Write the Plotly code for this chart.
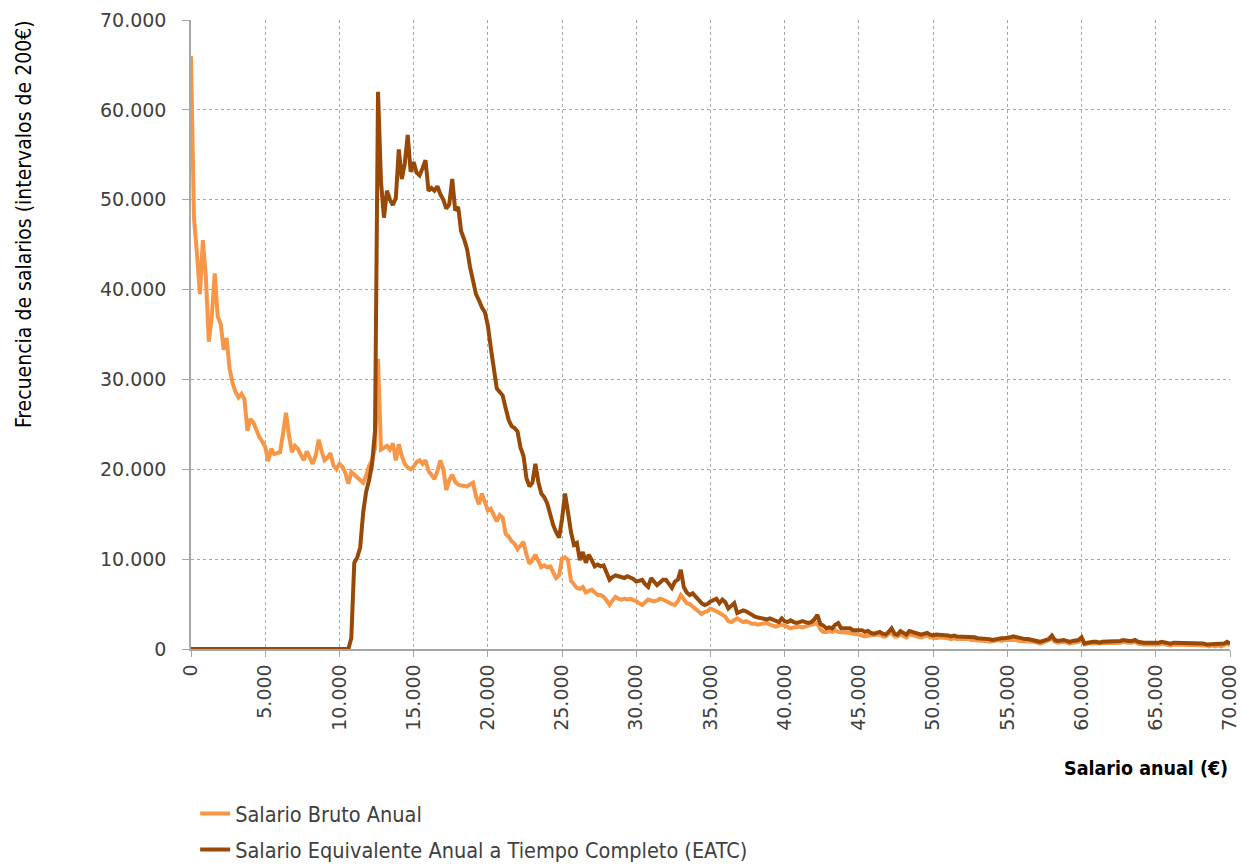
import numpy as np
import plotly.graph_objects as go

# Salary bins of 200 EUR (lower bound of each bin)
SALARIO = list(range(0, 70001, 200))

# Frequency per bin, in thousands of salaries
BRUTO_MILES = [
    66.0, 48.0, 44.0, 39.5, 45.5, 41.5, 34.2, 37.0, 41.8, 37.0,
    36.2, 33.3, 34.6, 31.2, 29.6, 28.6, 28.0, 28.4, 27.8, 24.3,
    25.6, 25.2, 24.4, 23.6, 23.1, 22.5, 20.9, 22.3, 21.7, 21.8,
    21.9, 24.0, 26.3, 23.8, 21.9, 22.6, 22.3, 21.6, 21.0, 22.0,
    21.4, 20.6, 21.5, 23.3, 22.0, 21.0, 21.3, 21.8, 20.4, 20.0,
    20.6, 20.3, 19.6, 18.4, 19.7, 19.4, 19.2, 18.9, 18.5, 19.3,
    20.4, 21.0, 22.4, 32.3, 22.2, 22.4, 22.6, 22.2, 22.9, 21.0,
    22.8, 21.5, 20.6, 20.2, 20.0, 20.3, 20.8, 21.0, 20.6, 21.0,
    19.8, 19.4, 18.9, 19.8, 21.0, 20.0, 17.7, 18.8, 19.4, 18.6,
    18.3, 18.2, 18.1, 18.1, 18.3, 18.5, 17.0, 16.1, 17.3, 16.4,
    15.4, 15.6, 14.8, 14.2, 14.9, 14.6, 12.8, 12.5, 12.0, 11.7,
    11.1, 11.6, 11.9, 10.5, 9.5, 9.9, 10.5, 9.8, 9.1, 9.3,
    9.1, 9.2, 8.6, 7.9, 8.2, 10.1, 10.2, 9.9, 7.6, 7.2,
    6.8, 6.7, 6.9, 6.3, 6.5, 6.6, 6.3, 6.0, 6.0, 5.8,
    5.4, 4.9, 5.4, 5.8, 5.6, 5.5, 5.6, 5.5, 5.6, 5.5,
    5.3, 5.1, 4.9, 5.2, 5.5, 5.4, 5.3, 5.4, 5.6, 5.5,
    5.3, 5.1, 5.0, 4.9, 5.3, 6.0, 5.6, 5.1, 5.0, 4.7,
    4.5, 4.2, 3.9, 4.1, 4.2, 4.5, 4.4, 4.2, 4.0, 3.8,
    3.6, 3.1, 3.0, 3.2, 3.4, 3.2, 3.0, 3.1, 2.9, 2.8,
    2.8, 2.7, 2.8, 2.9, 2.9, 2.7, 2.6, 2.5, 2.6, 2.7,
    2.6, 2.4, 2.3, 2.4, 2.5, 2.5, 2.4, 2.5, 2.5, 2.6,
    2.8, 2.9, 2.2, 1.9, 1.9, 2.0, 1.9, 2.1, 1.9, 1.9,
    1.9, 1.8, 1.8, 1.7, 1.7, 1.6, 1.5, 1.4, 1.5, 1.5,
    1.6, 1.6, 1.6, 1.4, 1.4, 1.7, 1.8, 1.4, 1.4, 1.6,
    1.4, 1.3, 1.6, 1.5, 1.4, 1.3, 1.3, 1.4, 1.5, 1.3,
    1.2, 1.2, 1.3, 1.3, 1.2, 1.2, 1.1, 1.2, 1.1, 1.1,
    1.2, 1.1, 1.1, 1.0, 1.0, 1.0, 0.9, 0.9, 0.9, 0.8,
    0.8, 0.9, 1.0, 0.9, 1.0, 1.0, 1.1, 1.1, 1.0, 0.9,
    0.9, 0.9, 0.8, 0.8, 0.8, 0.7, 0.6, 0.7, 0.8, 1.0,
    1.2, 0.8, 0.7, 0.8, 0.8, 0.7, 0.6, 0.7, 0.7, 0.8,
    1.0, 0.5, 0.6, 0.6, 0.6, 0.7, 0.6, 0.6, 0.6, 0.7,
    0.6, 0.7, 0.7, 0.7, 0.8, 0.7, 0.7, 0.7, 0.8, 0.6,
    0.5, 0.5, 0.5, 0.5, 0.4, 0.5, 0.5, 0.6, 0.5, 0.4,
    0.4, 0.5, 0.5, 0.5, 0.4, 0.5, 0.4, 0.4, 0.5, 0.4,
    0.4, 0.4, 0.4, 0.3, 0.4, 0.3, 0.4, 0.3, 0.4, 0.6,
    0.4,
]

EATC_MILES = [
    0.0, 0.0, 0.0, 0.0, 0.0, 0.0, 0.0, 0.0, 0.0, 0.0,
    0.0, 0.0, 0.0, 0.0, 0.0, 0.0, 0.0, 0.0, 0.0, 0.0,
    0.0, 0.0, 0.0, 0.0, 0.0, 0.0, 0.0, 0.0, 0.0, 0.0,
    0.0, 0.0, 0.0, 0.0, 0.0, 0.0, 0.0, 0.0, 0.0, 0.0,
    0.0, 0.0, 0.0, 0.0, 0.0, 0.0, 0.0, 0.0, 0.0, 0.0,
    0.0, 0.0, 0.0, 0.0, 1.2, 9.6, 10.2, 11.3, 15.2, 17.5,
    18.8, 20.6, 24.3, 62.0, 52.0, 48.0, 51.0, 50.0, 49.4, 50.2,
    55.6, 52.3, 54.0, 57.2, 53.1, 54.2, 53.0, 52.7, 53.5, 54.4,
    51.0, 51.3, 51.0, 51.5, 50.6, 50.0, 49.0, 49.5, 52.3, 48.8,
    49.2, 46.5, 45.6, 44.5, 42.5, 41.0, 39.5, 38.8, 38.0, 37.5,
    36.0, 33.5, 31.0, 29.0, 28.6, 28.2, 26.8, 25.5, 24.8, 24.6,
    24.2, 22.4, 21.5, 19.0, 18.1, 18.5, 20.6, 18.6, 17.3, 16.9,
    16.2, 14.8, 13.8, 13.0, 12.4, 14.5, 17.3, 15.2, 13.0, 11.6,
    11.8, 9.9, 10.8, 9.6, 10.5, 9.9, 9.2, 9.4, 9.2, 9.3,
    8.5, 7.7, 8.0, 8.2, 8.1, 8.0, 7.9, 8.1, 8.0, 7.8,
    7.5, 7.6, 7.7, 7.2, 6.9, 7.9, 7.5, 7.1, 7.4, 7.7,
    7.7, 7.2, 6.8, 7.5, 7.7, 8.8, 6.9, 6.3, 6.0, 6.2,
    5.8, 5.4, 5.1, 4.9, 5.0, 5.3, 5.5, 5.6, 5.1, 5.5,
    5.2, 4.5, 4.8, 5.1, 4.0, 4.2, 4.3, 4.2, 4.0, 3.7,
    3.6, 3.5, 3.4, 3.3, 3.3, 3.4, 3.3, 3.1, 3.0, 3.4,
    3.1, 3.0, 3.2, 3.0, 2.9, 3.0, 3.1, 3.0, 2.9, 3.0,
    3.3, 3.8, 2.8, 2.6, 2.3, 2.4, 2.3, 2.7, 2.9, 2.3,
    2.3, 2.2, 2.3, 2.1, 2.1, 2.2, 2.1, 1.9, 2.0, 1.8,
    1.7, 1.8, 1.9, 1.7, 1.6, 1.9, 2.3, 1.7, 1.6, 2.0,
    1.8, 1.6, 2.0, 1.9, 1.8, 1.6, 1.6, 1.7, 1.8, 1.6,
    1.5, 1.6, 1.6, 1.5, 1.5, 1.5, 1.4, 1.5, 1.4, 1.4,
    1.4, 1.4, 1.3, 1.3, 1.3, 1.2, 1.2, 1.1, 1.1, 1.1,
    1.0, 1.1, 1.2, 1.2, 1.2, 1.2, 1.3, 1.4, 1.3, 1.2,
    1.2, 1.1, 1.1, 1.0, 1.0, 0.9, 0.8, 0.9, 1.0, 1.1,
    1.5, 1.0, 0.9, 1.0, 1.0, 0.9, 0.8, 0.9, 0.9, 1.0,
    1.3, 0.6, 0.7, 0.8, 0.8, 0.8, 0.7, 0.8, 0.8, 0.9,
    0.8, 0.9, 0.9, 0.9, 1.0, 0.9, 0.9, 0.9, 1.0, 0.8,
    0.7, 0.7, 0.7, 0.7, 0.6, 0.7, 0.7, 0.8, 0.7, 0.6,
    0.6, 0.7, 0.7, 0.7, 0.6, 0.7, 0.6, 0.6, 0.7, 0.6,
    0.6, 0.6, 0.5, 0.5, 0.6, 0.5, 0.5, 0.5, 0.6, 0.8,
    0.6,
]

SERIES_NAMES = [
    "Salario Bruto Anual",
    "Salario Equivalente Anual a Tiempo Completo (EATC)",
]
SERIES_COLORS = ["#F79646", "#984807"]

X_TITLE = "Salario anual (€)"
Y_TITLE = "Frecuencia de salarios (intervalos de 200€)"

bruto = np.array(BRUTO_MILES) * 1000
eatc = np.array(EATC_MILES) * 1000

NUM_FONT = "DejaVu Sans, Verdana, sans-serif"
TXT_FONT = "DejaVu Sans Condensed, Liberation Sans Narrow, Arial Narrow, sans-serif"
TEXT_COLOR = "#404040"
GRID_COLOR = "#a6a6a6"
AXIS_COLOR = "#a6a6a6"

fig = go.Figure()
for i, (name, ys) in enumerate(zip(SERIES_NAMES, [bruto, eatc])):
    fig.add_trace(go.Scatter(
        x=SALARIO, y=ys, mode="lines", name=name,
        legendgroup=f"g{i}",
        line=dict(color=SERIES_COLORS[i], width=4),
    ))

fig.update_layout(
    width=1243, height=867,
    margin=dict(l=191, r=13, t=20, b=218, autoexpand=False),
    paper_bgcolor="white", plot_bgcolor="white",
    separators=",.",
    showlegend=True,
    legend=dict(
        x=0.004, y=-0.229, xanchor="left", yanchor="top",
        orientation="v", tracegroupgap=5,
        font=dict(family=TXT_FONT, size=21.5, color=TEXT_COLOR),
        bgcolor="rgba(0,0,0,0)",
    ),
    xaxis=dict(
        range=[0, 70000], dtick=5000, tick0=0, tickformat=",d",
        tickangle=-90,
        showgrid=True, gridcolor=GRID_COLOR, griddash="dot", gridwidth=1,
        showline=True, linecolor=AXIS_COLOR, linewidth=1.5,
        ticks="outside", ticklen=6, tickcolor=AXIS_COLOR,
        zeroline=False,
        tickfont=dict(family=NUM_FONT, size=19, color=TEXT_COLOR),
    ),
    yaxis=dict(
        range=[0, 70000], dtick=10000, tick0=0, tickformat=",d",
        showgrid=True, gridcolor=GRID_COLOR, griddash="dot", gridwidth=1,
        showline=True, linecolor=AXIS_COLOR, linewidth=1.5,
        ticks="outside", ticklen=7, tickcolor=AXIS_COLOR,
        zeroline=False, ticklabelstandoff=12,
        tickfont=dict(family=NUM_FONT, size=19, color=TEXT_COLOR),
    ),
    annotations=[
        dict(text="<b>" + X_TITLE + "</b>", xref="paper", yref="paper",
             x=1.0, y=-0.19, xanchor="right", yanchor="middle",
             showarrow=False,
             font=dict(family=TXT_FONT, size=19.5, color="#000000")),
        dict(text=Y_TITLE, xref="paper", yref="paper", x=-0.1607, y=0.6757,
             xanchor="center", yanchor="middle", textangle=-90,
             showarrow=False,
             font=dict(family=TXT_FONT, size=21, color="#000000")),
    ],
)

fig.write_html("out.html")
